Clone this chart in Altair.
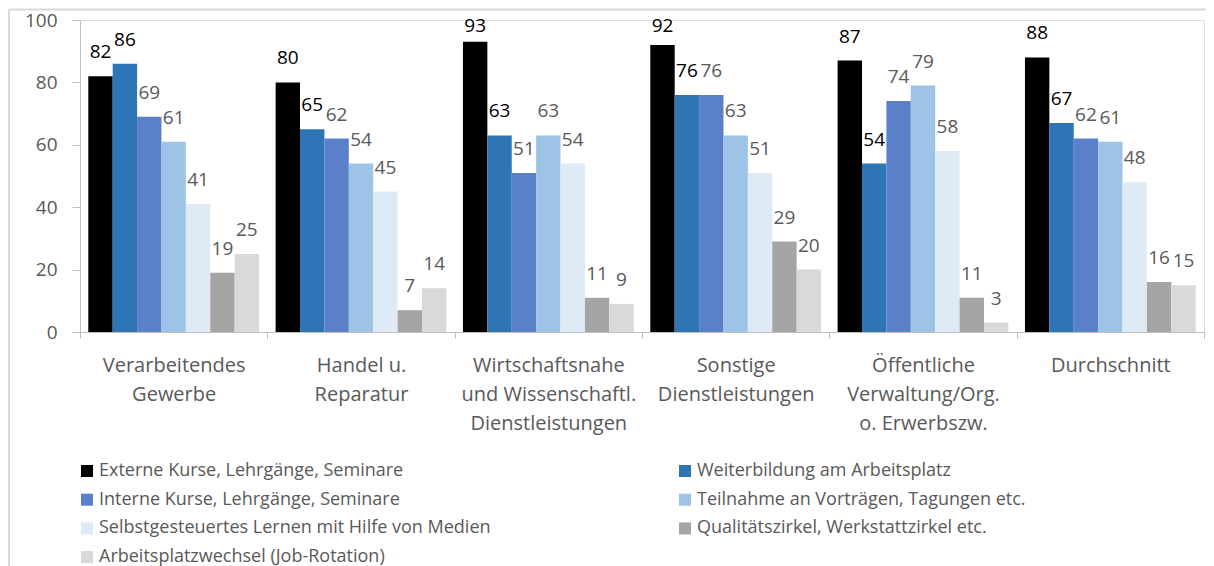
import altair as alt
import pandas as pd

categories = [
    "Verarbeitendes|Gewerbe",
    "Handel u.|Reparatur",
    "Wirtschaftsnahe|und Wissenschaftl.|Dienstleistungen",
    "Sonstige|Dienstleistungen",
    "Öffentliche|Verwaltung/Org.|o. Erwerbszw.",
    "Durchschnitt",
]

series = [
    "Externe Kurse, Lehrgänge, Seminare",
    "Weiterbildung am Arbeitsplatz",
    "Interne Kurse, Lehrgänge, Seminare",
    "Teilnahme an Vorträgen, Tagungen etc.",
    "Selbstgesteuertes Lernen mit Hilfe von Medien",
    "Qualitätszirkel, Werkstattzirkel etc.",
    "Arbeitsplatzwechsel (Job-Rotation)",
]

externe = [82, 80, 93, 92, 87, 88]
weiterbildung = [86, 65, 63, 76, 54, 67]
interne = [69, 62, 51, 76, 74, 62]
teilnahme = [61, 54, 63, 63, 79, 61]
selbst = [41, 45, 54, 51, 58, 48]
qualitaet = [19, 7, 11, 29, 11, 16]
rotation = [25, 14, 9, 20, 3, 15]

colors = ["#000000", "#2E75B6", "#5B80CA", "#9DC3E6", "#DEEBF7", "#A5A5A5", "#D9D9D9"]

# legend is filled column by column: reorder so it reads row by row like the original
legend_order = [0, 2, 4, 6, 1, 3, 5]
legend_domain = [series[i] for i in legend_order]
legend_range = [colors[i] for i in legend_order]

values = [externe, weiterbildung, interne, teilnahme, selbst, qualitaet, rotation]
rows = []
for s, vals in zip(series, values):
    for c, v in zip(categories, vals):
        rows.append({"Branche": c, "Form": s, "Wert": v})
df = pd.DataFrame(rows)

GREY = "#595959"
AXIS = "#bfbfbf"
FONT = "Open Sans"

x_enc = alt.X(
    "Branche:N",
    sort=categories,
    scale=alt.Scale(paddingInner=0, paddingOuter=0),
    axis=alt.Axis(
        title=None,
        labelExpr="split(datum.label, '|')",
        labelAngle=0,
        tickBand="extent",
        tickSize=6,
        labelPadding=17,
        labelFontSize=20,
        labelLineHeight=29,
        labelColor=GREY,
        labelFont=FONT,
        labelLimit=400,
        domainColor=AXIS,
        tickColor=AXIS,
        grid=False,
    ),
)
xoff_enc = alt.XOffset(
    "Form:N", sort=series, scale=alt.Scale(paddingInner=0, paddingOuter=0.34)
)
y_axis = alt.Axis(
    title=None,
    values=[0, 20, 40, 60, 80, 100],
    tickSize=8,
    labelPadding=15,
    labelFontSize=19,
    labelColor=GREY,
    labelFont=FONT,
    domainColor=AXIS,
    tickColor=AXIS,
    grid=False,
)

bars = alt.Chart(df).mark_bar().encode(
    x=x_enc,
    xOffset=xoff_enc,
    y=alt.Y("Wert:Q", scale=alt.Scale(domain=[0, 100]), axis=y_axis),
    color=alt.Color(
        "Form:N",
        scale=alt.Scale(domain=legend_domain, range=legend_range),
        legend=alt.Legend(
            title=None,
            orient="none",
            legendX=-2,
            legendY=442,
            columns=2,
            columnPadding=185,
            rowPadding=10.7,
            symbolType="square",
            symbolSize=144,
            symbolStrokeWidth=0,
            labelFontSize=18,
            labelColor=GREY,
            labelFont=FONT,
            labelOffset=3,
            labelLimit=600,
            padding=0,
        ),
    ),
)

# labels near the top are kept inside the chart area, as in the original
labels = (
    alt.Chart(df)
    .transform_calculate(ly="min(datum.Wert, 90.4)")
    .mark_text(baseline="alphabetic", dy=-18, fontSize=19, font=FONT)
    .encode(
        x=x_enc,
        xOffset=xoff_enc,
        y=alt.Y("ly:Q"),
        text="Wert:Q",
        color=alt.condition(
            alt.FieldOneOfPredicate(field="Form", oneOf=series[:2]),
            alt.value("#000000"),
            alt.value(GREY),
        ),
    )
)

frame_df = pd.DataFrame({"f": [0]})
frame_top = alt.Chart(frame_df).mark_rule(stroke="#d9d9d9", strokeWidth=2).encode(
    x=alt.value(-71), x2=alt.value(1200), y=alt.value(-10.5)
)
frame_left = alt.Chart(frame_df).mark_rule(stroke="#d9d9d9", strokeWidth=2).encode(
    x=alt.value(-71), y=alt.value(-10.5), y2=alt.value(700)
)

chart = (
    alt.layer(frame_top, frame_left, bars, labels)
    .properties(
        width=1124,
        height=312,
        autosize="none",
        padding={"left": 72, "top": 12, "right": 2, "bottom": 276},
    )
    .configure_view(strokeWidth=0, strokeOpacity=0)
    .configure(font=FONT)
)

chart.save("out.html", embed_options={"renderer": "svg", "actions": False})
